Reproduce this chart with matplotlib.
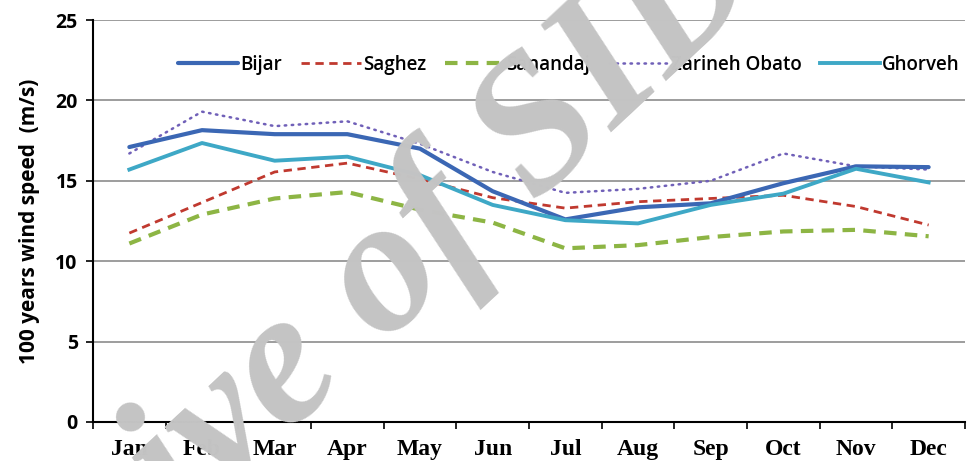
import numpy as np
import matplotlib
matplotlib.use("Agg")
import matplotlib.pyplot as plt

# monthly 100-year wind speed (m/s)
months = ["Jan", "Feb", "Mar", "Apr", "May", "Jun",
          "Jul", "Aug", "Sep", "Oct", "Nov", "Dec"]
bijar = [17.1, 18.15, 17.9, 17.9, 17.0, 14.35, 12.6, 13.35, 13.6, 14.85, 15.9, 15.85]
saghez = [11.75, 13.65, 15.55, 16.1, 15.1, 13.95, 13.3, 13.7, 13.9, 14.1, 13.4, 12.25]
sanandaj = [11.1, 12.9, 13.9, 14.3, 13.2, 12.4, 10.8, 11.0, 11.5, 11.85, 11.95, 11.55]
zarineh = [16.7, 19.3, 18.4, 18.7, 17.3, 15.55, 14.25, 14.5, 15.0, 16.7, 15.9, 15.7]
ghorveh = [15.7, 17.35, 16.25, 16.5, 15.35, 13.5, 12.55, 12.35, 13.5, 14.2, 15.75, 14.9]

x = np.arange(len(months))

fig = plt.figure(figsize=(9.71, 4.61), dpi=100)
ax = fig.add_axes([0.0958, 0.0846, 0.898, 0.872])

# faint watermark behind the data
fig.text(0.313, 0.212, "Archive of SID", fontsize=138, family="Liberation Serif",
         fontweight="bold", style="italic", color="#c4c4c4", rotation=43,
         ha="center", va="center", zorder=0)

ax.plot(x, bijar, color="#3b67b4", lw=3.0, solid_capstyle="round", label="Bijar", zorder=5)
ax.plot(x, saghez, color="#c0392f", lw=2.0, dashes=(3, 2), label="Saghez", zorder=4)
ax.plot(x, sanandaj, color="#8db544", lw=3.0, dashes=(3, 2), label="Sanandaj", zorder=4)
ax.plot(x, zarineh, color="#7060b8", lw=1.8, dashes=(0.6, 2.2), dash_capstyle="round",
        label="Zarineh Obato", zorder=4)
ax.plot(x, ghorveh, color="#3ea8c6", lw=2.8, label="Ghorveh", zorder=5)

ax.set_xlim(-0.5, 11.5)
ax.set_ylim(0, 25)
ax.set_yticks(np.arange(0, 26, 5))
ax.yaxis.grid(True, color="#8c8c8c", lw=1.2)
ax.set_axisbelow(True)
ax.patch.set_alpha(0)

ax.set_xticks(x)
ax.set_xticklabels(months, family="Liberation Serif", fontweight="bold", fontsize=17)
ax.set_xticks(np.arange(-0.5, 12, 1), minor=True)
ax.tick_params(axis="x", which="major", length=0, pad=12)
ax.tick_params(axis="x", which="minor", length=5, width=1.2, direction="out")
ax.tick_params(axis="y", length=5, width=1.2, pad=6)
for lab in ax.get_yticklabels():
    lab.set_fontweight("bold")
    lab.set_fontsize(14)
    lab.set_family("Open Sans")

ax.set_ylabel("100 years wind speed  (m/s)", fontsize=15, fontweight="bold",
              family="Open Sans", labelpad=11)

for side in ["top", "right"]:
    ax.spines[side].set_visible(False)
for side in ["left", "bottom"]:
    ax.spines[side].set_linewidth(1.5)
    ax.spines[side].set_color("black")

leg = ax.legend(loc="upper center", bbox_to_anchor=(0.546, 0.955), ncol=5, frameon=False,
                prop={"family": "Open Sans", "size": 13.5, "weight": "semibold"},
                handlelength=3.2, handletextpad=0.1, columnspacing=1.0)

fig.savefig("out.png", dpi=100)
